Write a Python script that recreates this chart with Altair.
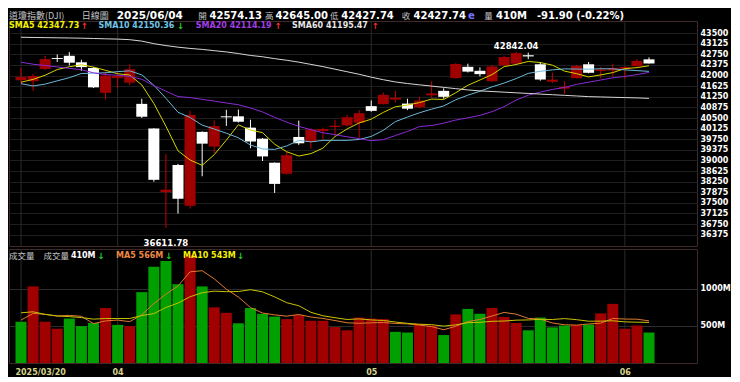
import altair as alt
import pandas as pd

# ---------------- data ----------------
dates = ["03/20", "03/21", "03/24", "03/25", "03/26", "03/27", "03/28", "03/31",
         "04/01", "04/02", "04/03", "04/04", "04/07", "04/08", "04/09", "04/10", "04/11",
         "04/14", "04/15", "04/16", "04/17", "04/21", "04/22", "04/23", "04/24", "04/25",
         "04/28", "04/29", "04/30",
         "05/01", "05/02", "05/05", "05/06", "05/07", "05/08", "05/09", "05/12", "05/13",
         "05/14", "05/15", "05/16", "05/19", "05/20", "05/21", "05/22", "05/23", "05/27",
         "05/28", "05/29", "05/30",
         "06/02", "06/03", "06/04"]

opens = [41840, 41800, 42230, 42620, 42700, 42470, 42270, 41390, 41910, 41750,
         41000, 40130, 37880, 38840, 37400, 40010, 39490, 40560, 40560, 40160,
         39770, 38920, 38530, 39830, 39650, 40040, 40180, 40240, 40330, 40920,
         40990, 41150, 41010, 40880, 41300, 41460, 41910, 42310, 42170, 41800,
         42360, 42420, 42720, 42400, 41780, 41540, 41910, 42400, 42160, 42180,
         42240, 42330, 42574.13]
highs = [42270, 42060, 42700, 42750, 42830, 42560, 42300, 42150, 42110, 42400,
         41180, 40140, 39220, 38880, 40750, 40030, 40420, 40790, 40800, 40440,
         39790, 38930, 39300, 40410, 40140, 40160, 40440, 40600, 40780, 41120,
         41400, 41460, 41180, 41260, 41800, 41550, 42440, 42420, 42290, 42380,
         42700, 42842.04, 42810, 42480, 42100, 41800, 42370, 42480, 42310, 42420,
         42330, 42580, 42645.00]
lows = [41710, 41460, 42200, 42480, 42360, 42170, 41560, 41160, 41550, 41660,
        40500, 38250, 36611.78, 37120, 37300, 38440, 39260, 40220, 40340, 39430,
        38980, 37850, 38500, 39550, 39410, 39740, 39880, 40200, 39770, 40720,
        40980, 41060, 40780, 40840, 41230, 41180, 41900, 42110, 41970, 41790,
        42330, 42380, 42580, 41820, 41740, 41340, 41900, 42080, 41910, 41970,
        41890, 42330, 42427.74]
closes = [41953.32, 41985.35, 42583.32, 42587.50, 42454.79, 42299.70, 41583.90,
          42001.76, 41989.96, 42225.32, 40545.93, 38314.86, 37965.60, 37645.59,
          40608.45, 39593.66, 40212.71, 40524.79, 40368.96, 39669.39, 39142.23,
          38170.41, 39186.98, 39606.57, 40093.40, 40113.50, 40227.59, 40527.62,
          40669.36, 40752.96, 41317.43, 41218.83, 40829.00, 41113.97, 41368.45,
          41249.38, 42410.10, 42140.43, 42051.06, 42322.75, 42654.74, 42792.07,
          42677.24, 41860.44, 41859.09, 41603.07, 42343.65, 42098.70, 42215.73,
          42270.07, 42305.48, 42519.64, 42427.74]
prev_close_before_first = 41964.63

sma5 = [41765.8, 41865.2, 42013.6, 42214.8, 42312.9, 42382.1, 42301.8, 42185.5,
        42066.0, 42020.1, 41669.4, 41015.6, 40208.3, 39339.5, 39016.1, 38825.6,
        39205.2, 39717.0, 40261.7, 40073.9, 39983.6, 39575.2, 39307.6, 39155.1,
        39239.9, 39434.2, 39845.6, 40113.7, 40326.3, 40458.2, 40699.0, 40897.2,
        40957.5, 41046.4, 41169.5, 41155.9, 41394.2, 41656.5, 41843.9, 42034.7,
        42315.8, 42392.2, 42499.6, 42461.4, 42368.7, 42158.4, 42068.7, 41953.0,
        42024.0, 42106.2, 42246.7, 42281.9, 42347.7]
sma10 = [41714.0, 41632.4, 41699.6, 41815.0, 41925.4, 42074.0, 42083.5, 42099.6,
         42140.4, 42166.5, 42025.8, 41658.7, 41196.9, 40702.7, 40518.1, 40247.5,
         40110.4, 39962.7, 39800.6, 39545.0, 39404.6, 39390.2, 39512.3, 39708.4,
         39656.9, 39708.9, 39710.4, 39710.7, 39740.7, 39849.1, 40066.6, 40371.4,
         40535.6, 40686.4, 40813.9, 40927.5, 41145.7, 41307.0, 41445.2, 41602.1,
         41735.9, 41893.2, 42078.0, 42152.7, 42201.7, 42237.1, 42230.5, 42226.3,
         42242.7, 42237.5, 42202.6, 42175.3, 42150.4]
sma20 = [42473.1, 42401.0, 42357.1, 42305.4, 42256.5, 42209.5, 42096.6, 42037.2,
         42010.6, 41971.6, 41869.9, 41645.6, 41448.3, 41258.9, 41221.7, 41160.7,
         41097.0, 41031.1, 40970.5, 40855.7, 40715.2, 40524.4, 40354.6, 40205.6,
         40087.5, 39978.2, 39910.4, 39836.7, 39770.6, 39697.0, 39735.6, 39880.8,
         40024.0, 40197.4, 40235.4, 40318.2, 40428.0, 40508.8, 40592.9, 40725.6,
         40901.2, 41132.3, 41306.8, 41419.5, 41507.8, 41582.3, 41688.1, 41766.6,
         41844.0, 41919.8, 41969.2, 42034.3, 42114.2]
sma60 = [43355, 43348, 43342, 43336, 43330, 43322, 43312, 43300, 43290, 43270,
         43219, 43129, 43061, 43005, 42960, 42926, 42881, 42836, 42779, 42712,
         42666, 42599, 42542, 42475, 42396, 42317, 42226, 42136, 42046, 41944,
         41854, 41775, 41719, 41673, 41628, 41583, 41538, 41493, 41459, 41437,
         41414, 41391, 41369, 41346, 41324, 41301, 41279, 41256, 41245, 41233,
         41222, 41211, 41195.47]

volumes = [555, 1030, 555, 461, 598, 496, 538, 739, 513, 496, 953, 1295, 1372,
           1060, 1450, 1030, 748, 675, 534, 739, 662, 624, 590, 645, 568, 568,
           483, 440, 611, 598, 590, 419, 410, 526, 504, 376, 654, 727, 662, 739,
           620, 538, 440, 611, 479, 504, 513, 517, 667, 795, 461, 504, 410]
vma5 = [577, 667, 654, 632, 640, 628, 530, 566, 577, 556, 648, 799, 926, 1035,
        1226, 1241, 1132, 993, 887, 745, 672, 647, 630, 652, 618, 599, 571, 541,
        534, 540, 544, 532, 526, 509, 490, 447, 494, 557, 585, 632, 680, 657,
        600, 590, 538, 514, 509, 525, 536, 599, 591, 589, 567]
vma10 = [675, 688, 654, 632, 624, 611, 590, 598, 598, 598, 638, 664, 746, 806,
         891, 945, 966, 959, 961, 986, 957, 889, 811, 770, 682, 635, 609, 585,
         593, 579, 572, 551, 533, 521, 515, 496, 513, 542, 547, 561, 564, 576,
         579, 587, 585, 597, 583, 562, 563, 568, 553, 549, 546]

month_grid_idx = [0, 8, 29, 50]            # first trading day of each month shown
x_label_vals = [-0.5, 8, 29, 50]           # first label starts at the left edge
x_label_text = ["2025/03/20", "04", "05", "06"]
price_ticks = list(range(36375, 43501, 375))
vol_ticks = [500, 1000]

n = len(closes)
df = pd.DataFrame({
    "idx": list(range(n)), "date": dates,
    "open": opens, "high": highs, "low": lows, "close": closes,
    "sma5": sma5, "sma10": sma10, "sma20": sma20, "sma60": sma60,
    "vol": volumes, "vma5": vma5, "vma10": vma10,
})
df["prev"] = [prev_close_before_first] + closes[:-1]
df["vup"] = df["close"] > df["prev"]
grid_df = pd.DataFrame({"idx": month_grid_idx})

hi_df = df[df["high"] == df["high"].max()].assign(lab=lambda d: d["high"].map(lambda v: f"{v:.2f}"))
lo_df = df[df["low"] == df["low"].min()].assign(lab=lambda d: d["low"].map(lambda v: f"{v:.2f}"))

# ---------------- layout ----------------
W = 688
H_PRICE = 225
H_VOL = 114
FONT = "DejaVu Sans"
CJK = "Noto Sans CJK TC"

x_scale = alt.Scale(domain=[-0.58, 55.56], nice=False, zero=False)
p_scale = alt.Scale(domain=[35975, 43930], nice=False, zero=False)
v_scale = alt.Scale(domain=[0, 1533], nice=False, zero=True)

x_price = alt.X("idx:Q", scale=x_scale, axis=None)

label_expr = " : ".join(f"datum.value == {v} ? '{t}'" for v, t in zip(x_label_vals, x_label_text)) + " : ''"
x_vol = alt.X("idx:Q", scale=x_scale,
              axis=alt.Axis(values=x_label_vals, labelExpr=label_expr, ticks=False, domain=False,
                            grid=False, title=None,
                            labelColor="#d4d48c", labelFont=FONT, labelFontWeight="bold",
                            labelFontSize=8, labelPadding=5, labelFlush=False,
                            labelAlign={"condition": {"test": "datum.value < 0", "value": "left"},
                                        "value": "center"}))

p_axis = alt.Axis(orient="right", values=price_ticks, format="d", labelColor="#ffffff",
                  labelFont=FONT, labelFontWeight="bold", labelFontSize=8, labelPadding=3,
                  ticks=False, domain=False, grid=True, gridColor="#1e1e1e", title=None,
                  labelFlush=False)
v_axis = alt.Axis(orient="right", values=vol_ticks, labelExpr="datum.value + 'M'",
                  labelColor="#ffffff", labelFont=FONT, labelFontWeight="bold",
                  labelFontSize=8, labelPadding=3, ticks=False, domain=False, grid=True,
                  gridColor="#2c2c2c", title=None, labelFlush=False)


def py(field):
    return alt.Y(f"{field}:Q", scale=p_scale, axis=p_axis)


def vy(field):
    return alt.Y(f"{field}:Q", scale=v_scale, axis=v_axis)


one = pd.DataFrame({"k": [0]})


def label(text, x, y, color, size, bold=True, font=FONT):
    return alt.Chart(one).mark_text(
        text=text, align="left", baseline="middle", font=font, fontSize=size,
        fontWeight="bold" if bold else "normal", color=color
    ).encode(x=alt.value(x), y=alt.value(y))


def rx(ref_x):
    return max(0.0, round((ref_x - 3) * 0.983, 1))


base = alt.Chart(df)
up_test = "datum.close >= datum.open"

vgrid_price = alt.Chart(grid_df).mark_rule(color="#2a2a2a", strokeWidth=1).encode(x=x_price)
vgrid_vol = alt.Chart(grid_df).mark_rule(color="#2a2a2a", strokeWidth=1).encode(x=x_vol)

wicks = base.mark_rule(strokeWidth=1).encode(
    x=x_price, y=py("low"), y2="high:Q",
    color=alt.condition(up_test, alt.value("#c80000"), alt.value("#ffffff")))
bodies = base.mark_bar(size=11).encode(
    x=x_price, y=py("open"), y2="close:Q",
    color=alt.condition(up_test, alt.value("#a00000"), alt.value("#ffffff")))

ma_lines = [
    base.mark_line(strokeWidth=1, color="#d4d400").encode(x=x_price, y=py("sma5")),
    base.mark_line(strokeWidth=1, color="#6cb8d8").encode(x=x_price, y=py("sma10")),
    base.mark_line(strokeWidth=1, color="#8a2ad8").encode(x=x_price, y=py("sma20")),
    base.mark_line(strokeWidth=1, color="#d6d6d6").encode(x=x_price, y=py("sma60")),
]

hi_text = alt.Chart(hi_df).mark_text(font=FONT, fontWeight="bold", fontSize=8.5, color="#ffffff",
                                     baseline="middle", dy=-5.5).encode(
    x=x_price, y=py("high"), text="lab:N")
lo_text = alt.Chart(lo_df).mark_text(font=FONT, fontWeight="bold", fontSize=8.5, color="#ffffff",
                                     baseline="middle", dy=15).encode(
    x=x_price, y=py("low"), text="lab:N")

Y1 = -5.5
Y2 = 5.3
GRAY = "#c4c4c4"
UP = "#ff2a2a"
DN = "#22d022"
header = [
    label("道瓊指數(DJI)", rx(0), Y1, GRAY, 9, bold=False, font=CJK),
    label("日線圖", rx(77), Y1, GRAY, 9, bold=False, font=CJK),
    label("2025/06/04", rx(112.7), Y1, "#ffffff", 10.5),
    label("開", rx(195.5), Y1, GRAY, 8.5, bold=False, font=CJK),
    label("42574.13", rx(207), Y1, "#ffffff", 10),
    label("高", rx(263.5), Y1, GRAY, 8.5, bold=False, font=CJK),
    label("42645.00", rx(274), Y1, "#ffffff", 10),
    label("低", rx(329.5), Y1, GRAY, 8.5, bold=False, font=CJK),
    label("42427.74", rx(341), Y1, "#ffffff", 10),
    label("收", rx(402.5), Y1, GRAY, 8.5, bold=False, font=CJK),
    label("42427.74", rx(414.5), Y1, "#ffffff", 10),
    label("e", rx(470), Y1, "#7a72ff", 10),
    label("量", rx(486.5), Y1, GRAY, 8.5, bold=False, font=CJK),
    label("410M", rx(498.5), Y1, "#ffffff", 10),
    label("-91.90 (-0.22%)", rx(540), Y1, "#ffffff", 10),
    label("SMA5 42347.73", rx(2), Y2, "#f2f200", 8),
    label("↑", rx(76), Y2, UP, 8.5),
    label("SMA10 42150.36", rx(94), Y2, "#70c4e4", 8),
    label("↓", rx(174), Y2, DN, 8.5),
    label("SMA20 42114.19", rx(193), Y2, "#a23ee6", 8),
    label("↑", rx(273), Y2, UP, 8.5),
    label("SMA60 41195.47", rx(291), Y2, "#e6e6e6", 8),
    label("↑", rx(372), Y2, UP, 8.5),
]

price = alt.layer(vgrid_price, wicks, bodies, *ma_lines, hi_text, lo_text, *header).properties(
    width=W, height=H_PRICE)

vbars = base.mark_bar(size=11).encode(
    x=x_vol, y=vy("vol"),
    color=alt.condition("datum.vup", alt.value("#a00000"), alt.value("#00a000")))
vma_lines = [
    base.mark_line(strokeWidth=1, color="#e07a30").encode(x=x_vol, y=vy("vma5")),
    base.mark_line(strokeWidth=1, color="#c8c400").encode(x=x_vol, y=vy("vma10")),
]
Y3 = 6.9
vheader = [
    label("成交量", rx(2), Y3, GRAY, 8.5, bold=False, font=CJK),
    label("成交量", rx(38), Y3, GRAY, 8.5, bold=False, font=CJK),
    label("410M", rx(66), Y3, "#ffffff", 8),
    label("↓", rx(93), Y3, DN, 8.5),
    label("MA5 566M", rx(112), Y3, "#ee8844", 8),
    label("↓", rx(162), Y3, DN, 8.5),
    label("MA10 543M", rx(180), Y3, "#f2f200", 8),
    label("↓", rx(235), Y3, DN, 8.5),
]
volume = alt.layer(vgrid_vol, vbars, *vma_lines, *vheader).properties(width=W, height=H_VOL)

chart = alt.vconcat(price, volume, spacing=0).properties(
    padding={"left": 0, "right": 0, "top": 2, "bottom": 0}
).configure(background="#000000").configure_view(stroke="#3e2828", strokeWidth=1)

chart.save("out.html", embed_options={"renderer": "svg", "actions": False})
